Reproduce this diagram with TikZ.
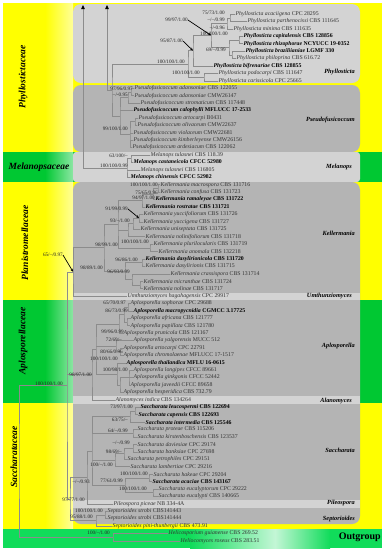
\documentclass[tikz,border=0pt]{standalone}
\usepackage{fontspec}
\setmainfont{Liberation Serif}
\usetikzlibrary{arrows.meta}
\definecolor{famyellow}{HTML}{FFFF00}
\definecolor{famgreen}{HTML}{00C832}
\definecolor{outgreen}{HTML}{10DC5A}
\definecolor{boxlight}{HTML}{D3D3D3}
\definecolor{boxdark}{HTML}{B4B4B4}
\definecolor{branch}{HTML}{8C8C8C}
\tikzset{
  leaf/.style={anchor=west, inner sep=0.5pt, font=\fontsize{5.8}{6}\selectfont, text=black!80},
  bleaf/.style={anchor=west, inner sep=0.5pt, font=\fontsize{5.8}{6}\selectfont\bfseries, text=black},
  br/.style={draw=branch, line width=0.4pt},
  supp/.style={anchor=east, inner sep=0pt, font=\fontsize{5.2}{6}\selectfont, text=black!85},
  clade/.style={anchor=east, inner sep=0pt, font=\fontsize{6.3}{7}\selectfont\bfseries\itshape},
  family/.style={inner sep=0pt, font=\fontsize{9.5}{10}\selectfont\bfseries\itshape},
  pointer/.style={-{Stealth[length=3pt,width=2.5pt]}, line width=0.7pt},
  trunc/.style={-{Triangle[length=4pt,width=3.5pt,color=black]}},
}
\begin{document}
\begin{tikzpicture}[x=1pt,y=-1pt]
  \useasboundingbox (0,0) rectangle (385,550);
  % family bands
  \fill[famyellow] (3,3) rectangle (382,152);
  \shade[left color=famyellow, right color=famyellow!40!white] (45,3) rectangle (73,152);
  \fill[famgreen] (3,152) rectangle (382,182);
  \shade[left color=famgreen, right color=famgreen!45!white] (45,152) rectangle (73,182);
  \fill[famyellow] (3,182) rectangle (382,300);
  \shade[left color=famyellow, right color=famyellow!40!white] (45,182) rectangle (73,300);
  \fill[famgreen] (3,300) rectangle (382,403);
  \shade[left color=famgreen, right color=famgreen!45!white] (45,300) rectangle (73,403);
  \fill[famyellow] (3,403) rectangle (382,529);
  \shade[left color=famyellow, right color=famyellow!40!white] (45,403) rectangle (73,529);
  \fill[outgreen] (3,529) rectangle (382,548);
  \shade[left color=outgreen, right color=outgreen!25!white] (190,529) rectangle (275,548);
  \shade[left color=outgreen!25!white, right color=outgreen] (275,529) rectangle (330,548);
  % clade boxes
  \fill[boxlight, rounded corners=8pt] (73,4) rectangle (360,83);
  \fill[boxdark, rounded corners=8pt] (73,85) rectangle (360,152);
  \fill[boxlight, rounded corners=3pt] (73,152) rectangle (360,182);
  \fill[boxdark, rounded corners=8pt] (73,182) rectangle (360,524);
  \fill[boxlight] (73,292.5) rectangle (360,299.5);
  \fill[boxlight] (73,396) rectangle (360,403.5);
  \fill[boxlight] (73,500) rectangle (360,507.5);

  % taxa
  \node[leaf] (L1) at (235,14.00) {\textit{Phyllosticta acaciigena} CPC 28295};
  \node[leaf] (L2) at (247,21.42) {\textit{Phyllosticta parthenocissi} CBS 111645};
  \node[leaf] (L3) at (233,28.84) {\textit{Phyllosticta minima} CBS 111635};
  \node[bleaf] (L4) at (243,36.26) {\textit{Phyllosticta capitalensis} CBS 128856};
  \node[bleaf] (L5) at (243,43.68) {\textit{Phyllosticta rhizophorae} NCYUCC 19-0352};
  \node[bleaf] (L6) at (245,51.10) {\textit{Phyllosticta braziliianiae} LGMF 330};
  \node[leaf] (L7) at (236,58.52) {\textit{Phyllosticta philoprina} CBS 616.72};
  \node[bleaf] (L8) at (213,65.94) {\textit{Phyllosticta bifrenariae} CBS 128855};
  \node[leaf] (L9) at (218,73.36) {\textit{Phyllosticta podocarpi} CBS 111647};
  \node[leaf] (L10) at (218,80.78) {\textit{Phyllosticta carissicola} CPC 25665};
  \node[leaf] (L11) at (134,88.20) {\textit{Pseudofusicoccum adansoniae} CBS 122055};
  \node[leaf] (L12) at (134,95.62) {\textit{Pseudofusicoccum adansoniae} CMW26147};
  \node[leaf] (L13) at (140,103.04) {\textit{Pseudofusicoccum stromaticum} CBS 117448};
  \node[bleaf] (L14) at (133,110.46) {\textit{Pseudofusicoccum calophylli} MFLUCC 17-2533};
  \node[leaf] (L15) at (138,117.88) {\textit{Pseudofusicoccum artocarpi} B0431};
  \node[leaf] (L16) at (137,125.30) {\textit{Pseudofusicoccum olivaceum} CMW22637};
  \node[leaf] (L17) at (133,132.72) {\textit{Pseudofusicoccum violaceum} CMW22681};
  \node[leaf] (L18) at (133,140.14) {\textit{Pseudofusicoccum kimberleyense} CMW26156};
  \node[leaf] (L19) at (132,147.56) {\textit{Pseudofusicoccum ardesiacum} CBS 122062};
  \node[leaf] (L20) at (150,154.98) {\textit{Melanops tulasnei} CBS 118.39};
  \node[bleaf] (L21) at (133,162.40) {\textit{Melanops castaneicola} CFCC 52980};
  \node[leaf] (L22) at (140,169.82) {\textit{Melanops tulasnei} CBS 116805};
  \node[bleaf] (L23) at (130,177.24) {\textit{Melanops chinensis} CFCC 52982};
  \node[leaf] (L24) at (160,184.66) {\textit{Kellermania macrospora} CBS 131716};
  \node[leaf] (L25) at (160,192.08) {\textit{Kellermania confusa} CBS 131723};
  \node[bleaf] (L26) at (155,199.50) {\textit{Kellermania ramaleyae} CBS 131722};
  \node[bleaf] (L27) at (145,206.92) {\textit{Kellermania rostratae} CBS 131721};
  \node[leaf] (L28) at (143,214.34) {\textit{Kellermania yuccifoliorum} CBS 131726};
  \node[leaf] (L29) at (143,221.76) {\textit{Kellermania yuccigena} CBS 131727};
  \node[leaf] (L30) at (140,229.18) {\textit{Kellermania uniseptata} CBS 131725};
  \node[leaf] (L31) at (145,236.60) {\textit{Kellermania nolinifoliorum} CBS 131718};
  \node[leaf] (L32) at (153,244.02) {\textit{Kellermania plurilocularis} CBS 131719};
  \node[leaf] (L33) at (158,251.44) {\textit{Kellermania anomala} CBS 132218};
  \node[bleaf] (L34) at (145,258.86) {\textit{Kellermania dasylirionicola} CBS 131720};
  \node[leaf] (L35) at (145,266.28) {\textit{Kellermania dasylirionis} CBS 131715};
  \node[leaf] (L36) at (170,273.70) {\textit{Kellermania crassispora} CBS 131714};
  \node[leaf] (L37) at (143,281.12) {\textit{Kellermania micranthae} CBS 131724};
  \node[leaf] (L38) at (143,288.54) {\textit{Kellermania nolinae} CBS 131717};
  \node[leaf] (L39) at (127,295.96) {\textit{Umthunziomyces hagahagensis} CPC 29917};
  \node[leaf] (L40) at (130,303.38) {\textit{Aplosporella sophorae} CPC 29688};
  \node[bleaf] (L41) at (133,310.80) {\textit{Aplosporella macropycnidia} CGMCC 3.17725};
  \node[leaf] (L42) at (130,318.22) {\textit{Aplosporella africana} CBS 121777};
  \node[leaf] (L43) at (130,325.64) {\textit{Aplosporella papillata} CBS 121780};
  \node[leaf] (L44) at (123,333.06) {\textit{Aplosporella prunicola} CBS 121167};
  \node[leaf] (L45) at (133,340.48) {\textit{Aplosporella yalgorensis} MUCC 512};
  \node[leaf] (L46) at (123,347.90) {\textit{Aplosporella artocarpi} CPC 22791};
  \node[leaf] (L47) at (123,355.32) {\textit{Aplosporella chromolaenae} MFLUCC 17-1517};
  \node[bleaf] (L48) at (126,362.74) {\textit{Aplosporella thailandica} MFLU 16-0615};
  \node[leaf] (L49) at (133,370.16) {\textit{Aplosporella longipes} CFCC 89661};
  \node[leaf] (L50) at (133,377.58) {\textit{Aplosporella ginkgonis} CFCC 52442};
  \node[leaf] (L51) at (130,385.00) {\textit{Aplosporella javeedii} CFCC 89658};
  \node[leaf] (L52) at (123,392.42) {\textit{Aplosporella hesperidica} CBS 732.79};
  \node[leaf] (L53) at (115,399.84) {\textit{Alanomyces indica} CBS 134264};
  \node[bleaf] (L54) at (140,407.26) {\textit{Saccharata leucospermi} CBS 122694};
  \node[bleaf] (L55) at (138,414.68) {\textit{Saccharata capensis} CBS 122693};
  \node[bleaf] (L56) at (145,422.10) {\textit{Saccharata intermedia} CBS 125546};
  \node[leaf] (L57) at (137,429.52) {\textit{Saccharata proteae} CBS 115206};
  \node[leaf] (L58) at (137,436.94) {\textit{Saccharata kirstenboschensis} CBS 123537};
  \node[leaf] (L59) at (137,444.36) {\textit{Saccharata daviesiae} CPC 29174};
  \node[leaf] (L60) at (137,451.78) {\textit{Saccharata banksiae} CPC 27698};
  \node[leaf] (L61) at (127,459.20) {\textit{Saccharata petrophiles} CPC 29151};
  \node[leaf] (L62) at (130,466.62) {\textit{Saccharata lambertiae} CPC 29216};
  \node[leaf] (L63) at (153,474.04) {\textit{Saccharata hakeae} CPC 29204};
  \node[bleaf] (L64) at (152,481.46) {\textit{Saccharata acaciae} CBS 143167};
  \node[leaf] (L65) at (158,488.88) {\textit{Saccharata eucalyptorum} CPC 29222};
  \node[leaf] (L66) at (158,496.30) {\textit{Saccharata eucalypti} CBS 140665};
  \node[leaf] (L67) at (113,503.72) {\textit{Pileospora piceae} NB 334-4A};
  \node[leaf] (L68) at (107,511.14) {\textit{Septorioides strobi} CBS141443};
  \node[leaf] (L69) at (107,518.56) {\textit{Septorioides strobi} CBS141444};
  \node[leaf] (L70) at (112,525.98) {\textit{Septorioides pini-thunbergii} CBS 473.91};
  \node[leaf] (L71) at (168,533.40) {\textit{Helicosporium guianense} CBS 269.52};
  \node[leaf] (L72) at (180,540.82) {\textit{Heliocomyces roseus} CBS 283.51};

  % internal nodes
  \coordinate (n12) at (230,17.71);
  \coordinate (n123) at (227,23.28);
  \coordinate (n45) at (239,39.97);
  \coordinate (n67) at (232,54.81);
  \coordinate (n4567) at (229,47.39);
  \coordinate (n1_7) at (211,35.34);
  \coordinate (n1_8) at (193,50.64);
  \coordinate (n910) at (204,77.07);
  \coordinate (nPhy) at (188,63.86);
  \coordinate (n1112) at (131,91.91);
  \coordinate (n11_13) at (128,97.48);
  \coordinate (n1516) at (135,121.59);
  \coordinate (n15_19) at (130,134.58);
  \coordinate (nPse) at (120,116.03);
  \coordinate (nPhyl) at (112,89.95);
  \coordinate (n2021) at (131,158.69);
  \coordinate (nMel) at (127,167.97);
  \coordinate (n2425) at (158,188.37);
  \coordinate (n24_26) at (153,193.94);
  \coordinate (n24_27) at (142,200.43);
  \coordinate (n2829) at (139,218.05);
  \coordinate (n28_30) at (133,223.62);
  \coordinate (n28_31) at (128,230.11);
  \coordinate (n3233) at (150,247.73);
  \coordinate (nK1) at (118,224.08);
  \coordinate (n3435) at (142,262.57);
  \coordinate (n3738) at (140,284.83);
  \coordinate (n36_38) at (132,279.27);
  \coordinate (nK2) at (125,270.92);
  \coordinate (nKel) at (104,247.50);
  \coordinate (nPlan) at (73,271.73);
  \coordinate (n4041) at (128,307.09);
  \coordinate (n4243) at (127,321.93);
  \coordinate (n40_43) at (124,314.51);
  \coordinate (n40_44) at (119,323.79);
  \coordinate (n4647) at (120,351.61);
  \coordinate (n45_47) at (116,346.05);
  \coordinate (n49_51) at (129,377.58);
  \coordinate (n49_52) at (120,385.00);
  \coordinate (n48_52) at (117,373.87);
  \coordinate (nApl) at (96,348.83);
  \coordinate (nApF) at (92,374.34);
  \coordinate (n5455) at (135,410.97);
  \coordinate (n54_56) at (130,416.54);
  \coordinate (n5758) at (133,433.23);
  \coordinate (n5960) at (133,448.07);
  \coordinate (n59_61) at (124,453.64);
  \coordinate (n59_62) at (115,460.13);
  \coordinate (n6364) at (149,477.75);
  \coordinate (n6566) at (153,492.59);
  \coordinate (n63_66) at (125,485.17);
  \coordinate (nSac) at (92,450.86);
  \coordinate (nSacP) at (87,477.29);
  \coordinate (n6869) at (105,514.85);
  \coordinate (nSep) at (96,520.42);
  \coordinate (nSacF) at (70,498.86);
  \coordinate (nIn) at (67,385.30);
  \coordinate (nOut) at (113,537.11);
  \coordinate (nRoot) at (19,461.20);
  \coordinate (nPF) at (107,89.95);
  \coordinate (nMF) at (83,167.97);
  \coordinate (topA) at (83,5);
  \coordinate (topB) at (107,5);

  % branches
  \draw[br] (L1.west) -| (n12) |- (L2.west);
  \draw[br] (n12) -| (n123) |- (L3.west);
  \draw[br] (L4.west) -| (n45) |- (L5.west);
  \draw[br] (L6.west) -| (n67) |- (L7.west);
  \draw[br] (n45) -| (n4567) |- (n67);
  \draw[br] (n123) -| (n1_7) |- (n4567);
  \draw[br] (n1_7) -| (n1_8) |- (L8.west);
  \draw[br] (L9.west) -| (n910) |- (L10.west);
  \draw[br] (n1_8) -| (nPhy) |- (n910);
  \draw[br] (L11.west) -| (n1112) |- (L12.west);
  \draw[br] (n1112) -| (n11_13) |- (L13.west);
  \draw[br] (L15.west) -| (n1516) |- (L16.west);
  \draw[br] (n1516) -| (n15_19) |- (L19.west);
  \draw[br] (n15_19 |- L17.west) -- (L17.west);
  \draw[br] (n15_19 |- L18.west) -- (L18.west);
  \draw[br] (n11_13) -| (nPse) |- (n15_19);
  \draw[br] (nPse |- L14.west) -- (L14.west);
  \draw[br] (nPhy) -| (nPhyl) |- (nPse);
  \draw[br] (L20.west) -| (n2021) |- (L21.west);
  \draw[br] (n2021) -| (nMel) |- (L23.west);
  \draw[br] (nMel |- L22.west) -- (L22.west);
  \draw[br] (L24.west) -| (n2425) |- (L25.west);
  \draw[br] (n2425) -| (n24_26) |- (L26.west);
  \draw[br] (n24_26) -| (n24_27) |- (L27.west);
  \draw[br] (L28.west) -| (n2829) |- (L29.west);
  \draw[br] (n2829) -| (n28_30) |- (L30.west);
  \draw[br] (n28_30) -| (n28_31) |- (L31.west);
  \draw[br] (L32.west) -| (n3233) |- (L33.west);
  \draw[br] (n24_27) -| (nK1) |- (n3233);
  \draw[br] (nK1 |- n28_31) -- (n28_31);
  \draw[br] (L34.west) -| (n3435) |- (L35.west);
  \draw[br] (L37.west) -| (n3738) |- (L38.west);
  \draw[br] (L36.west) -| (n36_38) |- (n3738);
  \draw[br] (n3435) -| (nK2) |- (n36_38);
  \draw[br] (nK1) -| (nKel) |- (nK2);
  \draw[br] (nKel) -| (nPlan) |- (L39.west);
  \draw[br] (L40.west) -| (n4041) |- (L41.west);
  \draw[br] (L42.west) -| (n4243) |- (L43.west);
  \draw[br] (n4041) -| (n40_43) |- (n4243);
  \draw[br] (n40_43) -| (n40_44) |- (L44.west);
  \draw[br] (L46.west) -| (n4647) |- (L47.west);
  \draw[br] (L45.west) -| (n45_47) |- (n4647);
  \draw[br] (L49.west) -| (n49_51) |- (L51.west);
  \draw[br] (n49_51 |- L50.west) -- (L50.west);
  \draw[br] (n49_51) -| (n49_52) |- (L52.west);
  \draw[br] (L48.west) -| (n48_52) |- (n49_52);
  \draw[br] (n40_44) -| (nApl) |- (n48_52);
  \draw[br] (nApl |- n45_47) -- (n45_47);
  \draw[br] (nApl) -| (nApF) |- (L53.west);
  \draw[br] (L54.west) -| (n5455) |- (L55.west);
  \draw[br] (n5455) -| (n54_56) |- (L56.west);
  \draw[br] (L57.west) -| (n5758) |- (L58.west);
  \draw[br] (L59.west) -| (n5960) |- (L60.west);
  \draw[br] (n5960) -| (n59_61) |- (L61.west);
  \draw[br] (n59_61) -| (n59_62) |- (L62.west);
  \draw[br] (L63.west) -| (n6364) |- (L64.west);
  \draw[br] (L65.west) -| (n6566) |- (L66.west);
  \draw[br] (n6364) -| (n63_66) |- (n6566);
  \draw[br] (n54_56) -| (nSac) |- (n63_66);
  \draw[br] (nSac |- n5758) -- (n5758);
  \draw[br] (nSac |- n59_62) -- (n59_62);
  \draw[br] (nSac) -| (nSacP) |- (L67.west);
  \draw[br] (L68.west) -| (n6869) |- (L69.west);
  \draw[br] (n6869) -| (nSep) |- (L70.west);
  \draw[br] (nSacP) -| (nSacF) |- (nSep);
  \draw[br] (nPlan) -| (nIn) |- (nSacF);
  \draw[br] (nIn |- nApF) -- (nApF);
  \draw[br] (L71.west) -| (nOut) |- (L72.west);
  \draw[br] (nIn) -| (nRoot) |- (nOut);
  \draw[br] (nPF) -- (nPhyl);
  \draw[br,trunc] (nPF) -- (topB);
  \draw[br] (nMF) -- (nMel);
  \draw[br,trunc] (nMF) -- (topA);

  % support values
  \node[supp] (s1) at (225,13) {75/73/1.00};
  \node[supp] (s2) at (225,20) {--/--/0.99};
  \node[supp] (s3) at (225,27.5) {--/-0.96};
  \node[supp] (s4) at (228,34) {100/100/1.00};
  \node[supp] (s5) at (188,20) {99/97/1.00};
  \node[supp] (s6) at (183,41) {95/87/1.00};
  \node[supp] (s7) at (226,50) {69/--/0.99};
  \node[supp] (s8) at (185,62) {100/100/1.00};
  \node[supp] (s9) at (200,73) {100/100/1.00};
  \node[supp] (s10) at (133,89) {97/96/0.97};
  \node[supp] (s11) at (128,95) {--/-0.95};
  \node[supp] (s12) at (128,129) {99/100/1.00};
  \node[supp] (s13) at (128,156) {63/100/--};
  \node[supp] (s14) at (128,166) {100/100/0.99};
  \node[supp] (s15) at (158,185) {100/100/1.00};
  \node[supp] (s16) at (158,193) {75/65/0.96};
  \node[supp] (s17) at (155,198) {94/97/1.00};
  \node[supp] (s18) at (128,209) {91/99/0.99};
  \node[supp] (s19) at (130,221) {93/--/1.00};
  \node[supp] (s20) at (149,242) {100/100/1.00};
  \node[supp] (s21) at (118,245) {98/99/1.00};
  \node[supp] (s22) at (138,260) {96/86/1.00};
  \node[supp] (s23) at (103,268) {98/89/1.00};
  \node[supp] (s24) at (130,272) {96/93/0.99};
  \node[supp] (s25) at (63,255) {65/--/0.97};
  \node[supp] (s26) at (126,303) {65/70/0.97};
  \node[supp] (s27) at (128,311) {86/73/0.99};
  \node[supp] (s28) at (124,332) {99/96/0.99};
  \node[supp] (s29) at (122,340) {72/69/--};
  \node[supp] (s30) at (123,352) {80/66/0.96};
  \node[supp] (s31) at (118,359) {100/100/1.00};
  \node[supp] (s32) at (128,370) {100/98/1.00};
  \node[supp] (s33) at (92,375) {98/97/1.00};
  \node[supp] (s34) at (63,384) {100/100/1.00};
  \node[supp] (s35) at (133,407) {73/97/1.00};
  \node[supp] (s36) at (128,420) {63/75/--};
  \node[supp] (s37) at (128,431) {64/--/0.99};
  \node[supp] (s38) at (130,443) {--/--/0.99};
  \node[supp] (s39) at (122,452) {98/69/--};
  \node[supp] (s40) at (113,465) {100/--/1.00};
  \node[supp] (s41) at (148,474) {100/100/1.00};
  \node[supp] (s42) at (90,482) {--/--/0.93};
  \node[supp] (s43) at (123,481) {77/61/0.99};
  \node[supp] (s44) at (147,489) {100/100/1.00};
  \node[supp] (s45) at (85,500) {97/77/1.00};
  \node[supp] (s46) at (103,511) {100/100/1.00};
  \node[supp] (s47) at (93,517) {95/88/1.00};
  \node[supp] (s48) at (110,533) {100/--/1.00};
  \draw[pointer] (s5.east) -- (n1_7);
  \draw[pointer] (s6.east) -- (n1_8);
  \draw[pointer] (s18.east) -- (n2829);
  \draw[pointer] (s25.east) -- (nPlan);

  % clade and family names
  \node[clade] (cPhy) at (355,72) {Phyllosticta};
  \node[clade] (cPse) at (355,120) {Pseudofusicoccum};
  \node[clade] (cMel) at (352,167) {Melanops};
  \node[clade] (cKel) at (355,233) {Kellermania};
  \node[clade] (cUmt) at (352,296) {Umthunziomyces};
  \node[clade] (cApl) at (355,346) {Aplosporella};
  \node[clade] (cAla) at (352,401) {Alanomyces};
  \node[clade] (cSac) at (355,450) {Saccharata};
  \node[clade] (cPil) at (355,503) {Pileospora};
  \node[clade] (cSep) at (355,519) {Septorioides};
  \node[anchor=east, inner sep=0pt, font=\fontsize{10}{11}\selectfont\bfseries] (cOut) at (381,537) {Outgroup};
  \node[family, rotate=90] (fPhy) at (23,77) {Phyllostictaceae};
  \node[family] (fMel) at (39,167) {Melanopsaceae};
  \node[family, rotate=90] (fPla) at (25,243) {Planistromellaceae};
  \node[family, rotate=90] (fApl) at (23,341) {Aplosporellaceae};
  \node[family, rotate=90] (fSac) at (14,457) {Saccharataceae};
\end{tikzpicture}
\end{document}
